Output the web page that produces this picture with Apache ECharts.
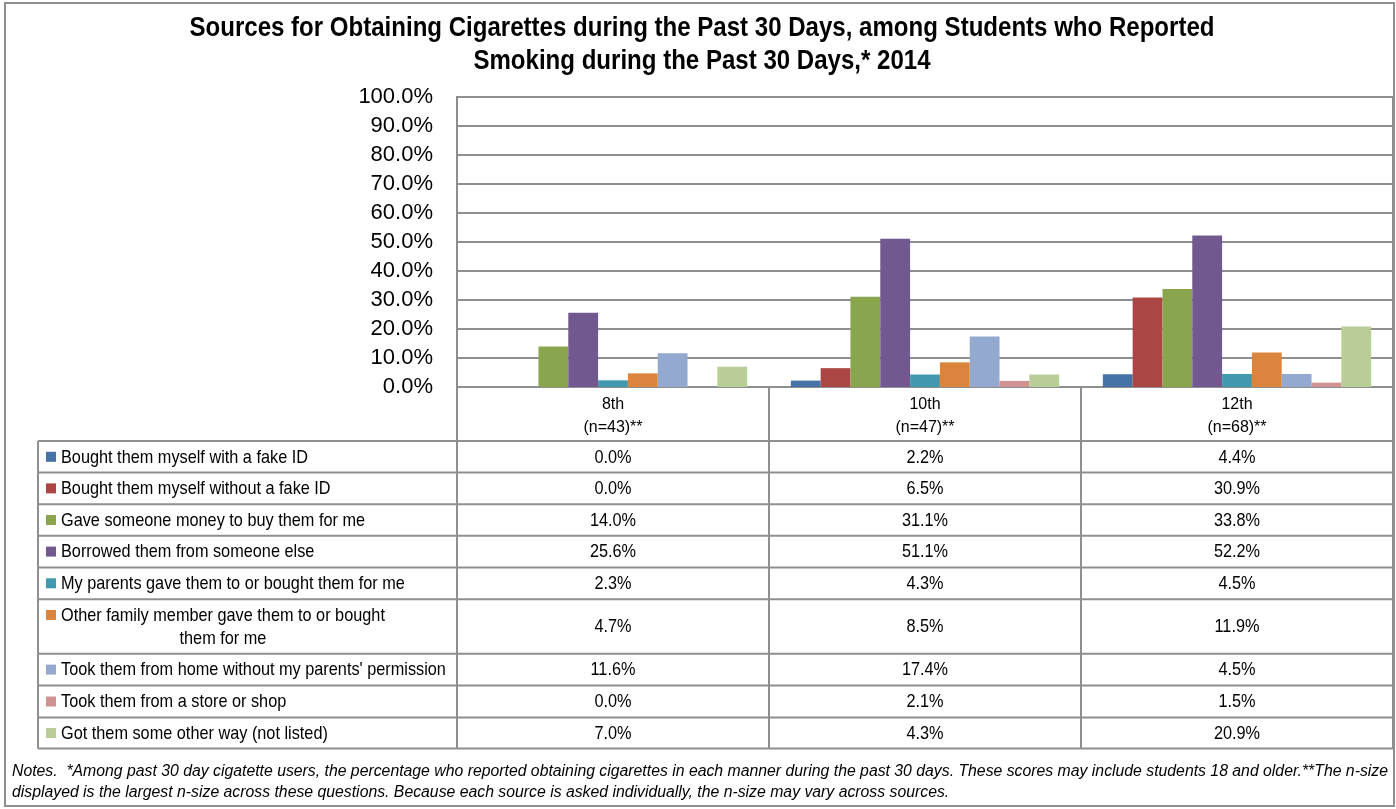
<!DOCTYPE html>
<html><head><meta charset="utf-8">
<script src="https://cdn.jsdelivr.net/npm/echarts@6/dist/echarts.min.js"></script>
<style>html,body{margin:0;padding:0;background:#fff}#c{width:1396px;height:809px}</style>
</head><body><div id="c"></div>
<script>
// ---------- data ----------
const titleLines = ['Sources for Obtaining Cigarettes during the Past 30 Days, among Students who Reported', 'Smoking during the Past 30 Days,* 2014'];
const categories = ['8th', '10th', '12th'];
const nSizes = ['(n=43)**', '(n=47)**', '(n=68)**'];
const sources = [
  'Bought them myself with a fake ID',
  'Bought them myself without a fake ID',
  'Gave someone money to buy them for me',
  'Borrowed them from someone else',
  'My parents gave them to or bought them for me',
  'Other family member gave them to or bought\nthem for me',
  "Took them from home without my parents' permission",
  'Took them from a store or shop',
  'Got them some other way (not listed)'
];
const grade8  = [0.0, 0.0, 14.0, 25.6, 2.3, 4.7, 11.6, 0.0, 7.0];
const grade10 = [2.2, 6.5, 31.1, 51.1, 4.3, 8.5, 17.4, 2.1, 4.3];
const grade12 = [4.4, 30.9, 33.8, 52.2, 4.5, 11.9, 4.5, 1.5, 20.9];
const yMin = 0, yMax = 100, yStep = 10;
const notesLines = [
  'Notes.  *Among past 30 day cigatette users, the percentage who reported obtaining cigarettes in each manner during the past 30 days. These scores may include students 18 and older.**The n-size',
  'displayed is the largest n-size across these questions. Because each source is asked individually, the n-size may vary across sources.'
];
const colors = ['#4572A7', '#AA4643', '#89A54E', '#71588F', '#4198AF', '#DB843D', '#93A9CF', '#D19392', '#B9CD96'];

// ---------- layout ----------
const TXFONT = '"Liberation Sans", Arial, sans-serif';
const LINE = '#8f8f8f';
const GRID_L = 457, GRID_T = 97, GRID_W = 936, GRID_H = 290;
const HEAD_H = 54;
const TABLE_L = 38;
const rowHeights = [31.6, 31.6, 31.6, 31.6, 31.8, 54.5, 31.8, 32, 31];

const byGrade = [grade8, grade10, grade12];
const series = sources.map((s, i) => ({
  name: s.replace('\n', ' '),
  type: 'bar',
  data: byGrade.map(g => g[i]),
  itemStyle: { color: colors[i] },
  barGap: '0%',
  barCategoryGap: '14%',
  silent: true,
  animation: false
}));

const chart = echarts.init(document.getElementById('c'), null, { renderer: 'canvas' });

// measure helper (narrow-font emulation: horizontal scale so widths match)
const mctx = document.createElement('canvas').getContext('2d');
function tw(txt, font) { mctx.font = font; return mctx.measureText(txt).width; }

const TITLE_FONT = 'bold 27px ' + TXFONT;
const TAB_FONT = '19px ' + TXFONT;
const NOTE_FONT = 'italic 16px ' + TXFONT;
const titleScale = 1025 / tw(titleLines[0], TITLE_FONT);
const tabScale = 247 / tw(sources[0], TAB_FONT);
const noteScale = 1376 / tw(notesLines[0], NOTE_FONT);

const graphics = [];
// outer frame
graphics.push({ type: 'rect', shape: { x: 5, y: 3, width: 1389, height: 803 }, style: { fill: null, stroke: LINE, lineWidth: 2 }, silent: true, z: 0 });
// title
titleLines.forEach((t, i) => graphics.push({ type: 'text', x: 702, y: 29 + i * 33, scaleX: titleScale, style: { text: t, font: TITLE_FONT, fill: '#000', align: 'center', verticalAlign: 'middle' }, silent: true }));

// table
const colB = [0, 1, 2, 3].map(k => GRID_L + k * GRID_W / categories.length);
const tableTop = GRID_T + GRID_H + HEAD_H;
let y = tableTop;
const rowTops = [];
rowHeights.forEach(h => { rowTops.push(y); y += h; });
const tableBot = y;
const tableR = GRID_L + GRID_W;
[tableTop].concat(rowTops.slice(1), [tableBot]).forEach(yy => graphics.push({ type: 'line', shape: { x1: TABLE_L, y1: yy, x2: tableR, y2: yy }, style: { stroke: LINE, lineWidth: 2 }, silent: true }));
graphics.push({ type: 'line', shape: { x1: TABLE_L, y1: tableTop, x2: TABLE_L, y2: tableBot }, style: { stroke: LINE, lineWidth: 2 }, silent: true });
colB.forEach(x => graphics.push({ type: 'line', shape: { x1: x, y1: GRID_T + GRID_H, x2: x, y2: tableBot }, style: { stroke: LINE, lineWidth: 2 }, silent: true }));
sources.forEach((s, i) => {
  const top = rowTops[i], h = rowHeights[i], cy = top + h / 2 + 0.5;
  const lines = s.split('\n');
  const textX = 61;
  if (lines.length === 1) {
    graphics.push({ type: 'rect', shape: { x: 46, y: cy - 5.5, width: 10, height: 10 }, style: { fill: colors[i] }, silent: true });
    graphics.push({ type: 'text', x: textX, y: cy, scaleX: tabScale, style: { text: s, font: TAB_FONT, fill: '#000', align: 'left', verticalAlign: 'middle' }, silent: true });
  } else {
    const w0 = tw(lines[0], TAB_FONT) * tabScale;
    const lh = 23;
    graphics.push({ type: 'rect', shape: { x: 46, y: cy - lh / 2 - 5.5, width: 10, height: 10 }, style: { fill: colors[i] }, silent: true });
    graphics.push({ type: 'text', x: textX + w0 / 2, y: cy, scaleX: tabScale, style: { text: s, font: TAB_FONT, fill: '#000', align: 'center', verticalAlign: 'middle', lineHeight: lh }, silent: true });
  }
  byGrade.forEach((g, k) => {
    graphics.push({ type: 'text', x: (colB[k] + colB[k + 1]) / 2, y: cy, scaleX: tabScale, style: { text: g[i].toFixed(1) + '%', font: TAB_FONT, fill: '#000', align: 'center', verticalAlign: 'middle' }, silent: true });
  });
});
// notes
notesLines.forEach((t, i) => graphics.push({ type: 'text', x: 12, y: 772 + i * 21, scaleX: noteScale, style: { text: t, font: NOTE_FONT, fill: '#000', align: 'left', verticalAlign: 'middle' }, silent: true }));

chart.setOption({
  animation: false,
  backgroundColor: '#fff',
  color: colors,
  grid: { left: GRID_L, top: GRID_T, width: GRID_W, height: GRID_H, show: true, borderColor: LINE, borderWidth: 2, containLabel: false },
  xAxis: {
    type: 'category',
    data: categories,
    axisLine: { show: true, lineStyle: { color: LINE, width: 2 } },
    axisTick: { show: false },
    axisLabel: {
      interval: 0, margin: 6, color: '#000', fontFamily: TXFONT, fontSize: 16, lineHeight: 23,
      formatter: (v, idx) => v + '\n' + nSizes[idx]
    }
  },
  yAxis: {
    type: 'value', min: yMin, max: yMax, interval: yStep,
    axisLine: { show: true, lineStyle: { color: LINE, width: 2 } },
    axisTick: { show: false },
    splitLine: { show: true, lineStyle: { color: LINE, width: 2 } },
    axisLabel: { margin: 24, color: '#000', fontFamily: TXFONT, fontSize: 22, formatter: v => v.toFixed(1) + '%' }
  },
  series: series,
  graphic: graphics
});
</script>
</body></html>
